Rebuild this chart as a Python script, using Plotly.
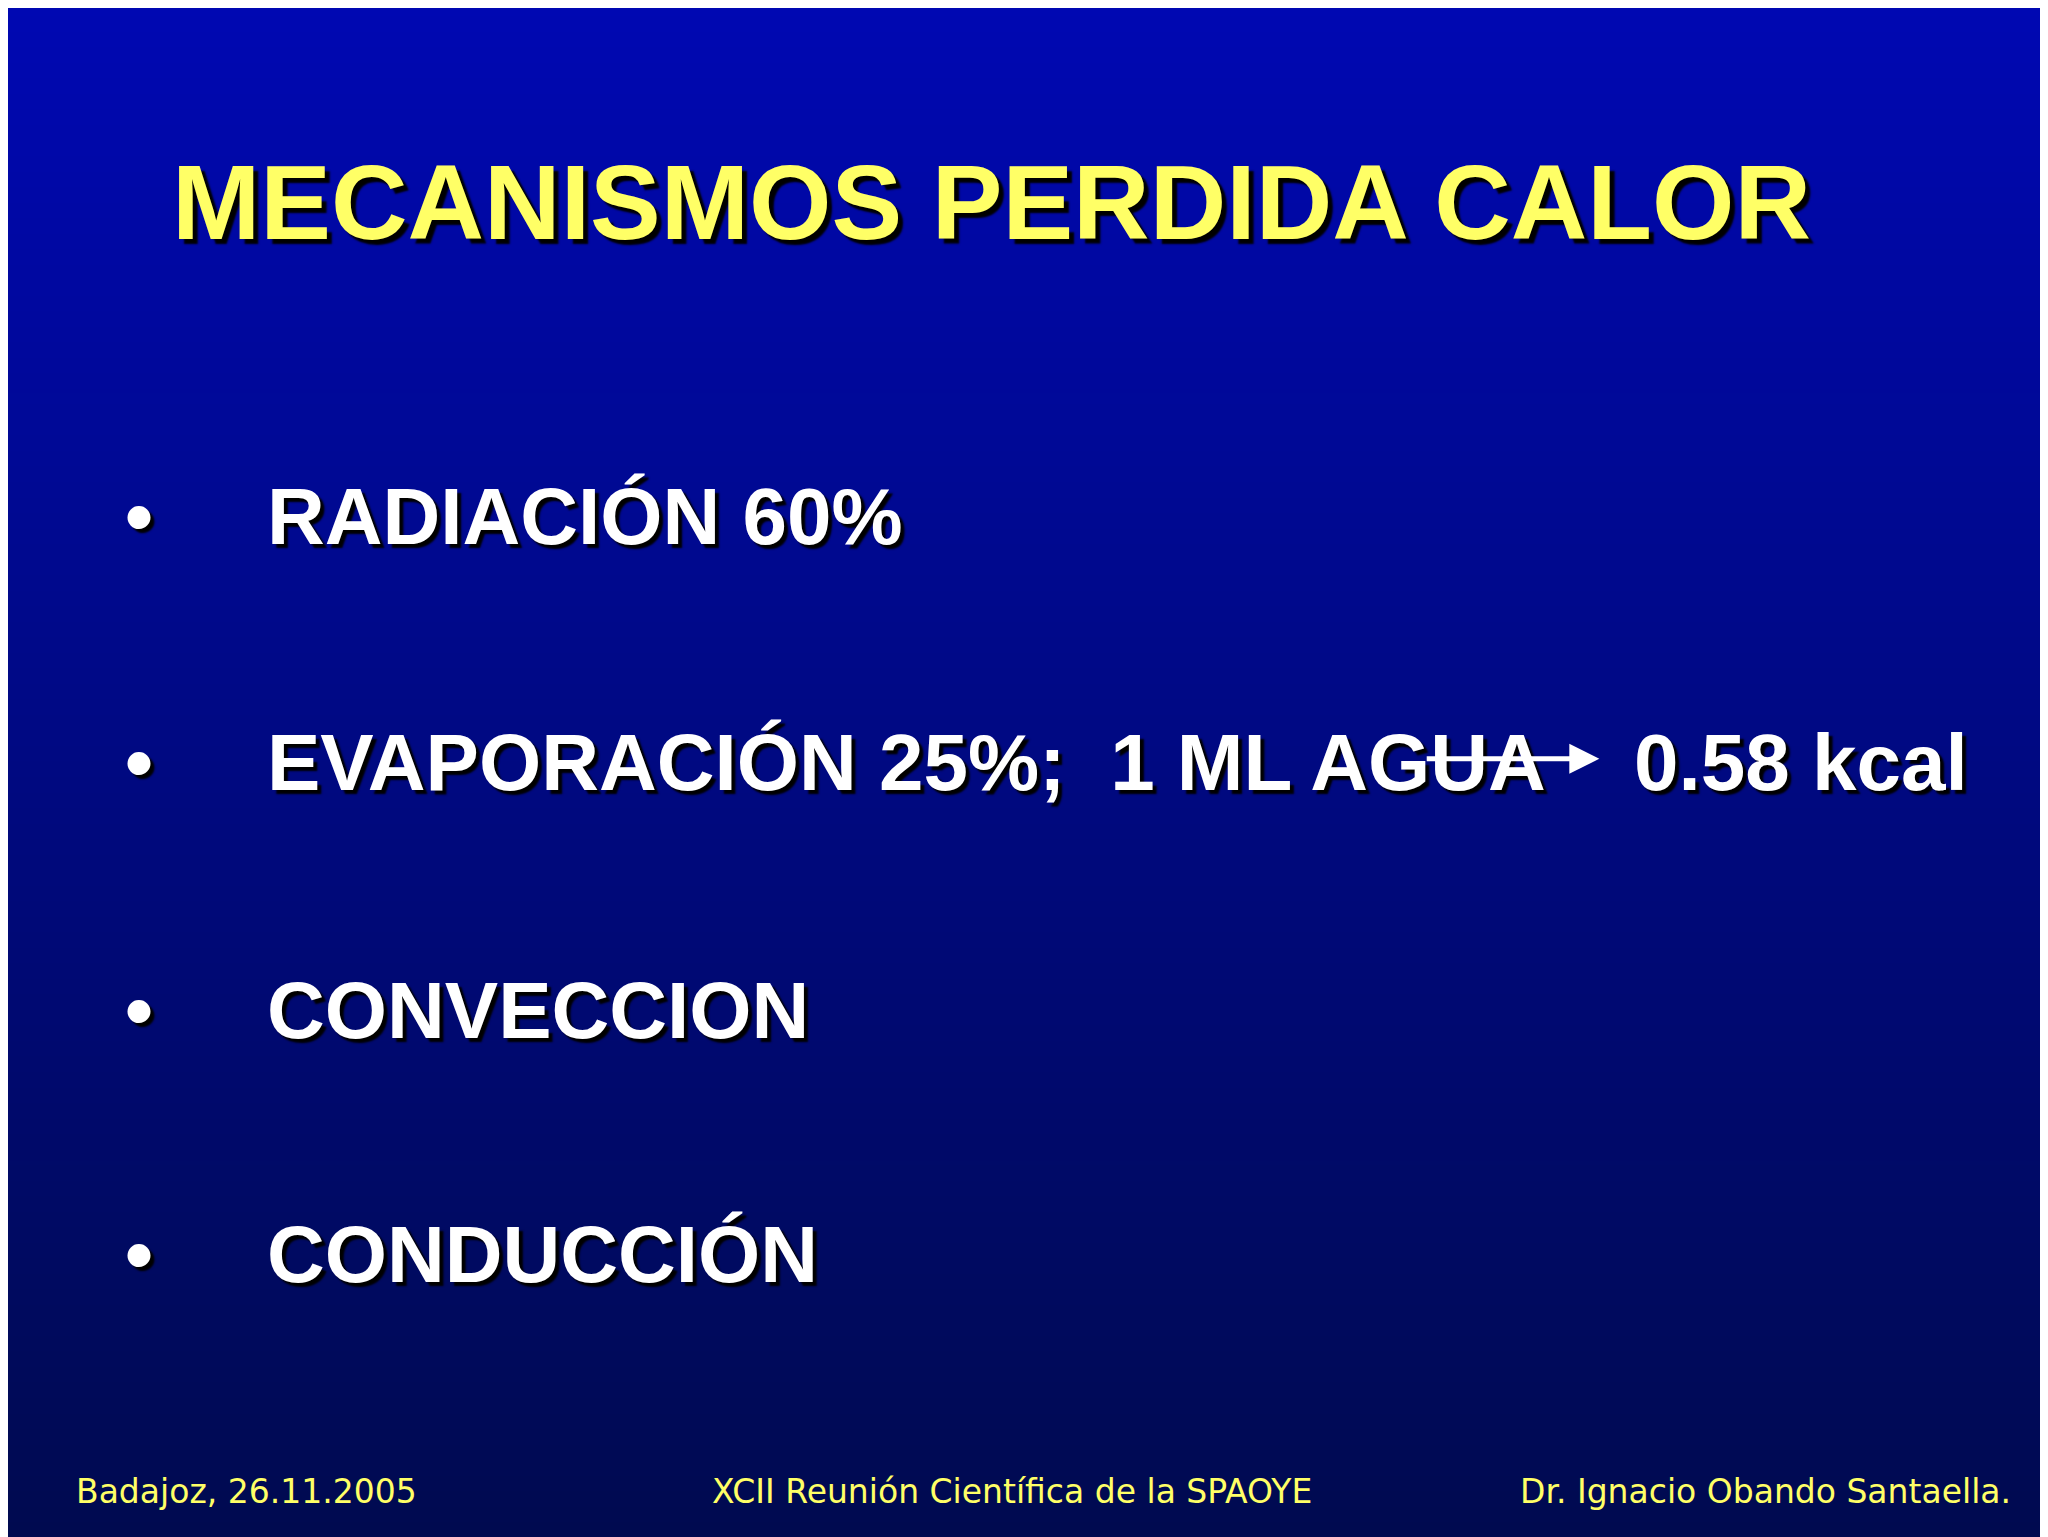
import plotly.graph_objects as go

title = "MECANISMOS PERDIDA CALOR"
bullets = ["RADIACIÓN 60%", "EVAPORACIÓN 25%;  1 ML AGUA", "CONVECCION", "CONDUCCIÓN"]
bullet_y = [0.669, 0.509, 0.348, 0.189]
result_text = "0.58 kcal"
footer = ["Badajoz, 26.11.2005", "XCII Reunión Científica de la SPAOYE", "Dr. Ignacio Obando Santaella."]

shadow = "4px 4px 2px #000000"
white = dict(family="Liberation Sans, Arial", size=80, color="white", weight="bold", shadow=shadow)

fig = go.Figure()
# background gradient (bottom row first)
fig.add_trace(go.Heatmap(
    z=[[1, 1], [0, 0]], x=[0, 1], y=[0, 1], zsmooth="best",
    colorscale=[[0, "#000a4f"], [1, "#0008b2"]], reversescale=True,
    showscale=False, hoverinfo="skip"))

ann = []
ann.append(dict(text=title, x=0.48, y=0.874, xanchor="center", yanchor="middle",
                font=dict(family="Liberation Sans, Arial", size=106, color="#ffff66",
                          weight="bold", shadow="5px 5px 2px #000000")))
for b, y in zip(bullets, bullet_y):
    ann.append(dict(text="•", x=0.064, y=y, xanchor="center", yanchor="middle", font=white))
    ann.append(dict(text=b, x=0.1255, y=y, xanchor="left", yanchor="middle", font=white))
ann.append(dict(text=result_text, x=0.793, y=bullet_y[1], xanchor="left", yanchor="middle", font=white))
foot_font = dict(family="DejaVu Sans", size=33, color="#ffff66")
for t, x, anc in zip(footer, [0.032, 0.49, 0.979], ["left", "center", "right"]):
    ann.append(dict(text=t, x=x, y=0.035, xanchor=anc, yanchor="middle", font=foot_font))

for a in ann:
    a["xref"] = "paper"
    a["yref"] = "paper"
    a["showarrow"] = False

# arrow in data coords (axes span the whole page)
ann.append(dict(text="", x=0.777, y=0.5115, ax=0.692, ay=0.5115, xref="x", yref="y",
                axref="x", ayref="y", showarrow=True, arrowhead=2, arrowsize=1.2,
                arrowwidth=5, arrowcolor="white"))

fig.update_layout(
    width=2048, height=1537, margin=dict(l=0, r=0, t=0, b=0),
    xaxis=dict(visible=False, range=[0, 1], fixedrange=True),
    yaxis=dict(visible=False, range=[0, 1], fixedrange=True),
    annotations=ann, paper_bgcolor="#000a6f", plot_bgcolor="#000a6f")

fig.write_html("out.html")
